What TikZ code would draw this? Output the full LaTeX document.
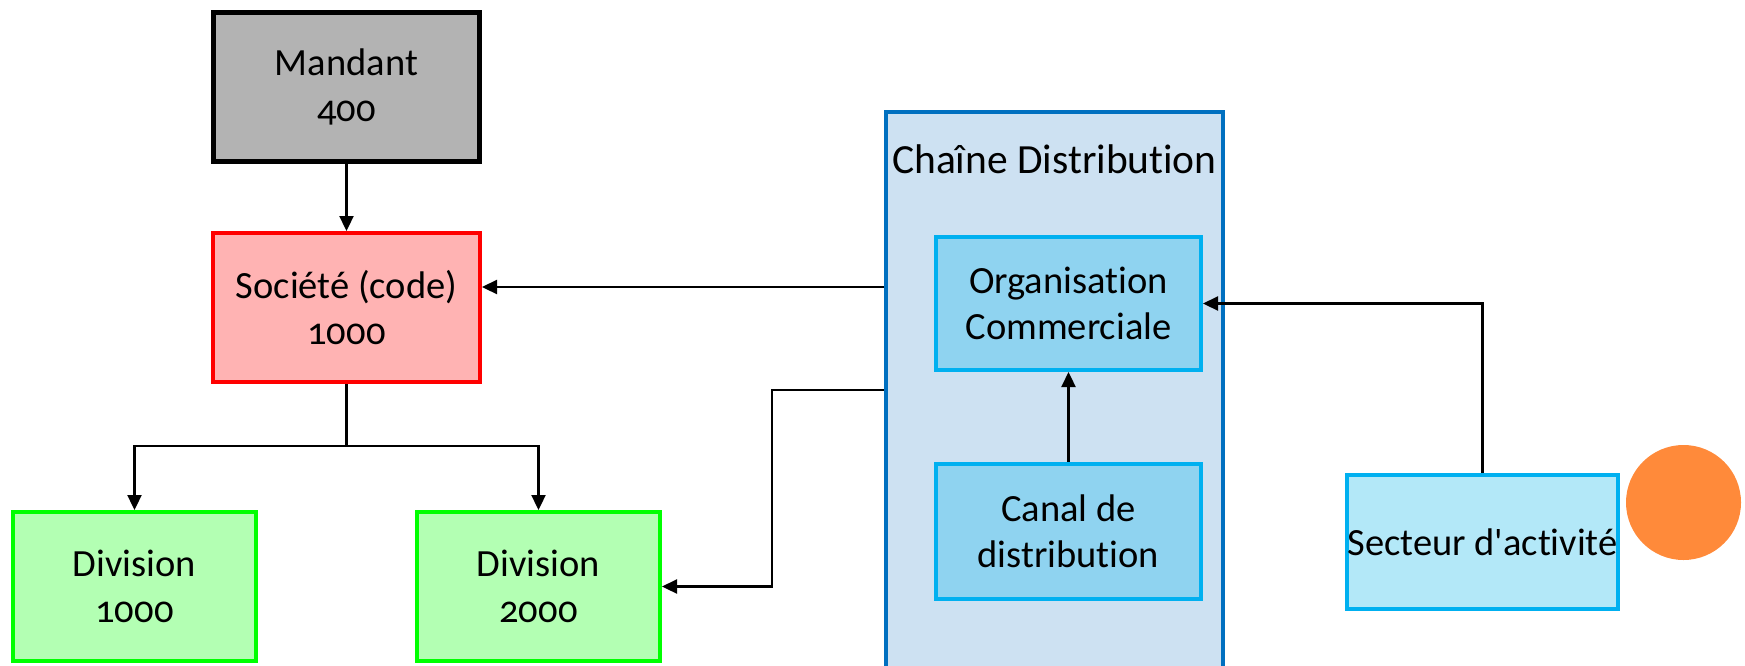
\documentclass[tikz,border=0pt]{standalone}
\usepackage{fontspec}
\setmainfont[Numbers=OldStyle,Ligatures={NoCommon}]{Carlito}
\usetikzlibrary{arrows.meta}
\definecolor{mgray}{HTML}{B3B3B3}
\definecolor{sfill}{HTML}{FFB3B3}
\definecolor{sborder}{HTML}{FF0000}
\definecolor{dfill}{HTML}{B3FFB3}
\definecolor{dborder}{HTML}{00FF00}
\definecolor{cfill}{HTML}{CDE1F2}
\definecolor{cborder}{HTML}{0070C0}
\definecolor{ofill}{HTML}{8FD3F0}
\definecolor{oborder}{HTML}{00B0F0}
\definecolor{secfill}{HTML}{B3E8F8}
\definecolor{dotcol}{HTML}{FF8A3A}
\begin{document}
\begin{tikzpicture}[x=1pt,y=-1pt,
  box/.style={draw, rectangle, align=center, inner sep=0pt,
    font=\fontsize{38.5}{46}\selectfont},
  arr/.style={line width=2.3pt, -{Triangle[length=15pt,width=14pt]}},
  ln/.style={line width=2.3pt}]
\useasboundingbox (0,0) rectangle (1745,665);
\begin{scope}
\clip (0,0) rectangle (1745,665);
\node[draw=cborder, fill=cfill, line width=4pt, minimum width=337pt, minimum height=608pt, inner sep=0pt] (chaine) at (1054.5,416) {};
\end{scope}
\node[font=\fontsize{41.5}{46}\selectfont, inner sep=0pt] (ctitle) at (1054.5,159) {Chaîne Distribution};

\node[box, fill=mgray, line width=5pt, minimum width=266pt, minimum height=149pt] (mandant) at (346.5,87) {Mandant\\400};
\node[box, fill=sfill, draw=sborder, line width=4pt, minimum width=267pt, minimum height=149pt] (societe) at (346.5,307.5) {Société (code)\\1000};
\node[box, fill=dfill, draw=dborder, line width=4pt, minimum width=243pt, minimum height=149pt] (div1) at (134.5,586.5) {Division\\1000};
\node[box, fill=dfill, draw=dborder, line width=4pt, minimum width=243pt, minimum height=149pt] (div2) at (538.5,586.5) {Division\\2000};
\node[box, fill=ofill, draw=oborder, line width=4pt, minimum width=265pt, minimum height=133pt] (org) at (1068.5,303.5) {Organisation\\Commerciale};
\node[box, fill=ofill, draw=oborder, line width=4pt, minimum width=265pt, minimum height=135pt] (canal) at (1068.5,531.5) {Canal de\\distribution};
\node[box, fill=secfill, draw=oborder, line width=4pt, minimum width=265pt, minimum height=134pt] (secteur) at (1482.5,542) {Secteur d\textquotesingle activité};
\node[circle, fill=dotcol, minimum size=115pt, inner sep=0pt] (dot) at (1683.5,502.5) {};

\coordinate (br) at (346.5,446);
\coordinate (bend) at (772,390);
\draw[arr] (mandant.south) -- (societe.north);
\draw[ln] (societe.south) -- (br);
\draw[arr] (br) -| (div1.north);
\draw[arr] (br) -| (div2.north);
\draw[arr] (chaine.west |- 0,287) -- (societe.east |- 0,287);
\draw[arr] (chaine.west |- bend) -- (bend) |- (div2.east);
\draw[arr] (canal.north) -- (org.south);
\draw[arr] (secteur.north) |- (org.east);
\end{tikzpicture}
\end{document}
